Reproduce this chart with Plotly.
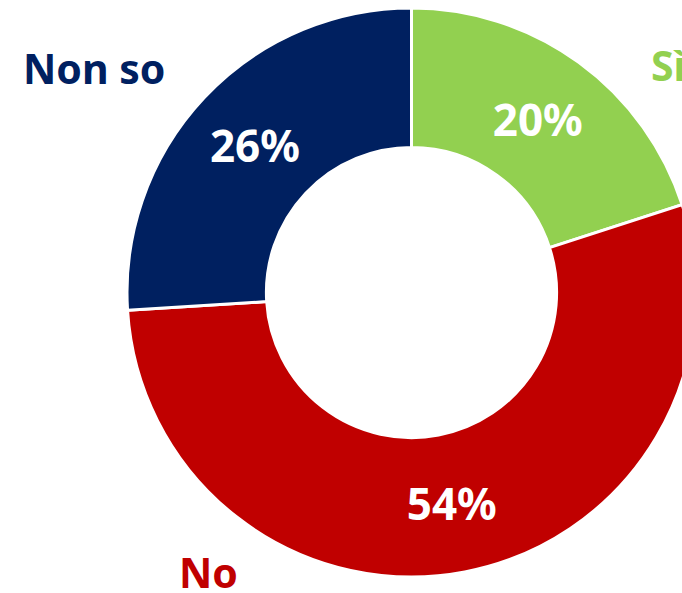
import plotly.graph_objects as go

labels = ["Sì", "No", "Non so"]
values = [20, 54, 26]
colors = ["#92D050", "#C00000", "#002060"]

W, H = 700, 593
fig = go.Figure(go.Pie(
    labels=labels,
    values=values,
    sort=False,
    direction="clockwise",
    rotation=0,
    hole=0.51,
    marker=dict(colors=colors, line=dict(color="white", width=3)),
    textinfo="percent",
    textposition="inside",
    insidetextorientation="horizontal",
    textfont=dict(family="Noto Sans", size=44, color="white", weight="bold"),
    domain=dict(x=[(411.5 - 284.5) / W, (411.5 + 284.5) / W],
                y=[16 / H, 585 / H]),
    showlegend=False,
    hoverinfo="label+percent",
))

outer = [("Sì", 649, 65, "#92D050"), ("Non so", 21, 68, "#002060"), ("No", 177, 572, "#C00000")]
for txt, px, py, c in outer:
    fig.add_annotation(text=txt, x=px / W, y=1 - py / H, xref="paper", yref="paper",
                       xanchor="left", yanchor="middle", showarrow=False,
                       font=dict(family="Noto Sans", size=41, color=c, weight="bold"))

fig.update_layout(width=W, height=H, margin=dict(l=0, r=0, t=0, b=0),
                  paper_bgcolor="white", plot_bgcolor="white")

fig.write_html("out.html", post_script="document.body.style.overflow='hidden';document.documentElement.style.overflow='hidden';document.body.style.margin='0';")
